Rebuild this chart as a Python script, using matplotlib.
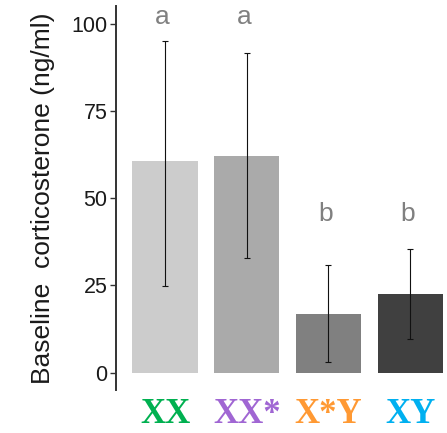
import matplotlib
matplotlib.use("Agg")
import matplotlib.pyplot as plt
import numpy as np

categories = ["XX", "XX*", "X*Y", "XY"]
means = [60.7, 62.1, 16.8, 22.5]
err_low = [24.8, 32.9, 3.0, 9.6]
err_high = [94.9, 91.7, 30.7, 35.5]
letters = ["a", "a", "b", "b"]
letter_y = [100, 100, 43.3, 43.3]
bar_colors = ["#CCCCCC", "#AAAAAA", "#808080", "#404040"]
label_colors = ["#00B050", "#A066D3", "#FF9933", "#00B0F0"]
yticks = [0, 25, 50, 75, 100]

fig = plt.figure(figsize=(4.47, 4.33), dpi=100)
ax = fig.add_axes([116/447, 43/433, 1 - 116/447, (390 - 6.2)/433])

x = np.arange(len(categories))
ax.bar(x, means, width=0.8, color=bar_colors, zorder=1)
lo = np.array(means) - np.array(err_low)
hi = np.array(err_high) - np.array(means)
ax.errorbar(x, means, yerr=[lo, hi], fmt="none", ecolor="#111111",
            elinewidth=0.8, capsize=2.5, capthick=0.8, zorder=2)
for xi, lab, ly in zip(x, letters, letter_y):
    ax.text(xi - 0.03, ly, lab, ha="center", va="baseline", fontsize=19,
            color="#808080", family="Liberation Sans")

ax.set_xlim(-0.6, 3.45)
ax.set_ylim(-5, 105)
ax.set_yticks(yticks)
ax.set_yticklabels([str(t) for t in yticks], fontsize=15.5,
                   family="Liberation Sans", color="#1a1a1a")
ax.tick_params(axis="y", length=4, width=1.0, color="#333333", pad=2)
ax.set_xticks(x)
ax.set_xticklabels(categories, fontsize=25, family="Liberation Serif",
                   fontweight="bold")
for t, c in zip(ax.get_xticklabels(), label_colors):
    t.set_color(c)
ax.tick_params(axis="x", length=0, pad=6)
for s in ["top", "right", "bottom"]:
    ax.spines[s].set_visible(False)
ax.spines["left"].set_linewidth(1.4)
ax.spines["left"].set_color("#333333")
ax.set_ylabel("Baseline  corticosterone (ng/ml)", fontsize=19,
              family="Liberation Sans", color="#1a1a1a", labelpad=12)

fig.savefig("out.png", dpi=100)
